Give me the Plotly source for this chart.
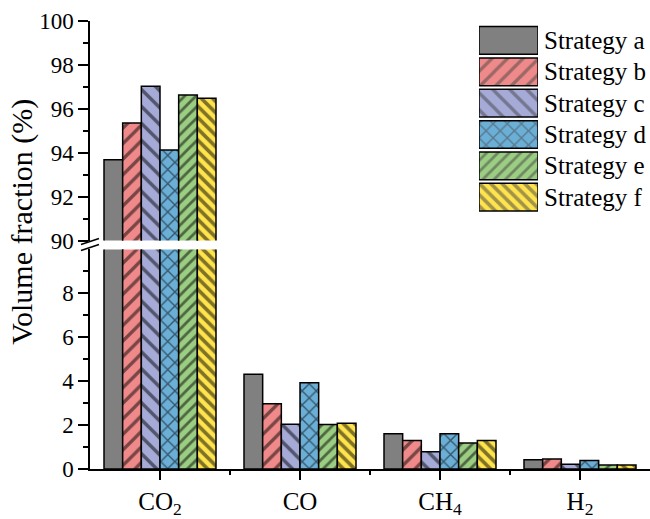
import plotly.graph_objects as go

categories = ["CO<sub>2</sub>", "CO", "CH<sub>4</sub>", "H<sub>2</sub>"]
strategies = ["Strategy a", "Strategy b", "Strategy c", "Strategy d", "Strategy e", "Strategy f"]

strategy_a = [93.68, 4.32, 1.60, 0.42]
strategy_b = [95.35, 2.97, 1.30, 0.45]
strategy_c = [97.03, 2.04, 0.79, 0.22]
strategy_d = [94.12, 3.93, 1.60, 0.39]
strategy_e = [96.63, 2.03, 1.18, 0.18]
strategy_f = [96.48, 2.08, 1.30, 0.18]
series = [strategy_a, strategy_b, strategy_c, strategy_d, strategy_e, strategy_f]

lower_ticks = [0, 2, 4, 6, 8]
upper_ticks = [90, 92, 94, 96, 98, 100]

colors = ["#808080", "#F08A8A", "#A5AAD7", "#6BAED6", "#9BCD82", "#FFE44D"]
shapes = ["", "/", "\\", "x", "/", "\\"]
psizes = [10, 11, 12, 10, 8, 8]
psolid = [0.2, 0.3, 0.28, 0.25, 0.35, 0.45]

FONT = "Liberation Serif"
W, H = 650, 519
ML, MR, MT, MB = 90, 0, 21, 45
PW, PH = W - ML - MR, H - MT - MB


def px_x(p):
    return (p - ML) / PW


def px_y(p):
    return (H - MB - p) / PH


xpos = list(range(len(categories)))

fig = go.Figure()
for name, vals, c, s, sz, so in zip(strategies, series, colors, shapes, psizes, psolid):
    for xa, ya in (("x", "y"), ("x2", "y2")):
        fig.add_trace(go.Bar(
            x=xpos, y=vals, name=name, xaxis=xa, yaxis=ya, showlegend=False,
            marker=dict(color=c, line=dict(color="black", width=1.5),
                        pattern=dict(shape=s, fgcolor="black", size=sz, solidity=so)),
        ))

# legend drawn as boxes on a small helper axis
legend_len = [1] * len(strategies)
fig.add_trace(go.Bar(
    x=legend_len, y=strategies, orientation="h", width=0.883,
    xaxis="x3", yaxis="y3", showlegend=False, hoverinfo="skip",
    marker=dict(color=colors, line=dict(color="black", width=1.5),
                pattern=dict(shape=shapes, fgcolor="black", size=psizes, solidity=psolid)),
))

legend_labels = [dict(text=n, x=l, y=n, xref="x3", yref="y3", xanchor="left",
                      yanchor="middle", xshift=4, showarrow=False,
                      font=dict(size=25, family=FONT, color="black"))
                 for n, l in zip(strategies, legend_len)]

axis_common = dict(showgrid=False, zeroline=False, showline=True, linecolor="black",
                   linewidth=1.5, ticks="outside", tickcolor="black", tickwidth=1.5)

lower_top = 252
upper_bottom = 243

fig.update_layout(
    width=W, height=H,
    margin=dict(l=ML, r=MR, t=MT, b=MB),
    paper_bgcolor="white", plot_bgcolor="white",
    barmode="group", bargap=0.2, bargroupgap=0,
    font=dict(family=FONT, color="black"),
    xaxis=dict(domain=[0, 1], anchor="y", range=[-0.5, len(categories) - 0.5],
               tickmode="array", tickvals=xpos, ticktext=categories,
               ticklen=9, tickfont=dict(size=25, family=FONT),
               minor=dict(tickmode="array", tickvals=[i + 0.5 for i in xpos[:-1]],
                          ticks="outside", ticklen=4, tickcolor="black", tickwidth=1.5),
               **axis_common),
    yaxis=dict(domain=[0, px_y(lower_top)], anchor="x", range=[0, 10],
               tickmode="array", tickvals=lower_ticks, ticklen=10,
               tickfont=dict(size=23, family=FONT),
               minor=dict(tickmode="array", tickvals=[1, 3, 5, 7, 9], ticks="outside",
                          ticklen=5, tickcolor="black", tickwidth=1.5),
               **axis_common),
    xaxis2=dict(domain=[0, 1], anchor="y2", matches="x", visible=False,
                range=[-0.5, len(categories) - 0.5]),
    yaxis2=dict(domain=[px_y(upper_bottom), 1], anchor="x2", range=[90, 100],
                tickmode="array", tickvals=upper_ticks, ticklen=10,
                tickfont=dict(size=23, family=FONT),
                minor=dict(tickmode="array", tickvals=[91, 93, 95, 97, 99], ticks="outside",
                           ticklen=5, tickcolor="black", tickwidth=1.5),
                **axis_common),
    xaxis3=dict(domain=[px_x(479), px_x(538)], anchor="y3", range=[0, 1], visible=False),
    yaxis3=dict(domain=[px_y(215), px_y(24.8)], anchor="x3", type="category",
                range=[len(strategies) - 0.5, -0.5], visible=False),
    annotations=[dict(text="Volume fraction (%)", textangle=-90, showarrow=False,
                      xref="paper", yref="paper", x=px_x(22), y=px_y(224),
                      xanchor="center", yanchor="middle",
                      font=dict(size=30, family=FONT, color="black"))] + legend_labels,
    shapes=[
        dict(type="line", xref="paper", yref="paper", x0=px_x(81), y0=px_y(247),
             x1=px_x(99), y1=px_y(241), line=dict(color="black", width=1.5)),
        dict(type="line", xref="paper", yref="paper", x0=px_x(81), y0=px_y(253),
             x1=px_x(99), y1=px_y(247), line=dict(color="black", width=1.5)),
    ],
)

fig.write_html("out.html")
